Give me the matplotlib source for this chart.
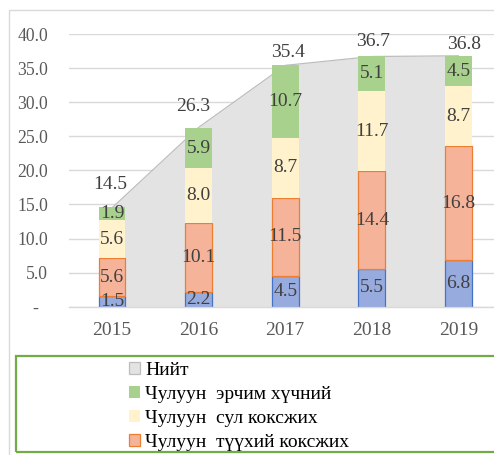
import matplotlib
matplotlib.use("Agg")
import matplotlib.pyplot as plt
from matplotlib.patches import Patch, Rectangle
from matplotlib.ticker import FuncFormatter, MultipleLocator
import numpy as np

plt.rcParams['font.family'] = ['Liberation Serif', 'DejaVu Serif']

years = ['2015', '2016', '2017', '2018', '2019']
series_names = ['Нийт', 'Чулуун  эрчим хүчний', 'Чулуун  сул коксжих',
                'Чулуун  түүхий коксжих', 'Чулуун  хагас коксжих']
blue_vals = [1.5, 2.2, 4.5, 5.5, 6.8]
orange_vals = [5.6, 10.1, 11.5, 14.4, 16.8]
cream_vals = [5.6, 8.0, 8.7, 11.7, 8.7]
green_vals = [1.9, 5.9, 10.7, 5.1, 4.5]
total_vals = [14.5, 26.3, 35.4, 36.7, 36.8]

# label offsets (points) for totals, styling only
total_dy = [17, 15, 9, 11, 8]
total_dx = [-1, -4, 2, 1, 4]

W, H = 494, 455
fig = plt.figure(figsize=(W / 100, H / 100), dpi=100)
ax = fig.add_axes([68.7 / W, 1 - 306.7 / H, 433 / W, 272.7 / H])

# outer chart border
fig.patches.append(Rectangle((8.5 / W, -0.2), 1.2, 1 - 10 / H + 0.2, transform=fig.transFigure,
                             fill=False, edgecolor='#d9d9d9', linewidth=1.0))

x = np.arange(len(years))
ax.set_xlim(-0.5, 4.5)
ax.set_ylim(0, 40)

ax.fill_between(x, total_vals, color='#e4e3e4', zorder=1, linewidth=0)
ax.plot(x, total_vals, color='#bdbdbd', linewidth=0.9, zorder=1.5)

bw = 0.31
blue = np.array(blue_vals)
orange = np.array(orange_vals)
cream = np.array(cream_vals)
green = np.array(green_vals)

ax.bar(x, blue, bw, color='#97abdf', edgecolor='#4472c4', linewidth=0.9, zorder=3)
ax.bar(x, orange, bw, bottom=blue, color='#f5b39a', edgecolor='#ed7d31', linewidth=0.9, zorder=3)
ax.bar(x, cream, bw, bottom=blue + orange, color='#fff2cc', linewidth=0, zorder=3)
ax.bar(x, green, bw, bottom=blue + orange + cream, color='#a9d18e', linewidth=0, zorder=3)

lab_kw = dict(ha='center', va='center', fontsize=14, color='#404040', zorder=5)
for i in range(len(years)):
    b0 = 0
    for vals in (blue, orange, cream, green):
        ax.text(x[i], b0 + vals[i] / 2, f'{vals[i]:.1f}', **lab_kw)
        b0 += vals[i]
    ax.annotate(f'{total_vals[i]:.1f}', (x[i], total_vals[i]), xytext=(total_dx[i], total_dy[i]),
                textcoords='offset points', ha='center', va='center', fontsize=14,
                color='#404040', zorder=5)

ax.yaxis.set_major_locator(MultipleLocator(5))
ax.yaxis.set_major_formatter(FuncFormatter(lambda v, p: '-  ' if abs(v) < 1e-9 else f'{v:.1f}'))
ax.grid(axis='y', color='#d9d9d9', linewidth=1.0, zorder=0)
ax.set_axisbelow(True)
ax.set_xticks(x)
ax.set_xticklabels(years)
ax.tick_params(axis='y', length=0, pad=14.9, labelsize=12.7, labelcolor='#595959')
ax.tick_params(axis='x', length=0, pad=11, labelsize=14, labelcolor='#595959')
for s in ['top', 'right', 'left']:
    ax.spines[s].set_visible(False)
ax.spines['bottom'].set_color('#d9d9d9')
ax.spines['bottom'].set_linewidth(1.0)
ax.spines['bottom'].set_zorder(4)

# legend box
fig.patches.append(Rectangle((16 / W, 1 - 452 / H), 1.2, (452 - 356) / H, transform=fig.transFigure,
                             fill=False, edgecolor='#70ad47', linewidth=1.6))

handles = [
    Patch(facecolor='#e4e3e4', edgecolor='#bdbdbd', linewidth=0.9),
    Patch(facecolor='#a9d18e', edgecolor='#a9d18e', linewidth=0),
    Patch(facecolor='#fff2cc', edgecolor='#fff2cc', linewidth=0),
    Patch(facecolor='#f5b39a', edgecolor='#ed7d31', linewidth=0.9),
]
leg = fig.legend(handles, series_names[:4], loc='upper left',
                 bbox_to_anchor=(129 / W, 1 - 362 / H), frameon=False,
                 fontsize=14, handlelength=0.58, handleheight=0.58, handletextpad=0.25,
                 labelspacing=0.36, borderpad=0, borderaxespad=0)
for t in leg.get_texts():
    t.set_color('#000000')

fig.savefig('out.png', dpi=100)
